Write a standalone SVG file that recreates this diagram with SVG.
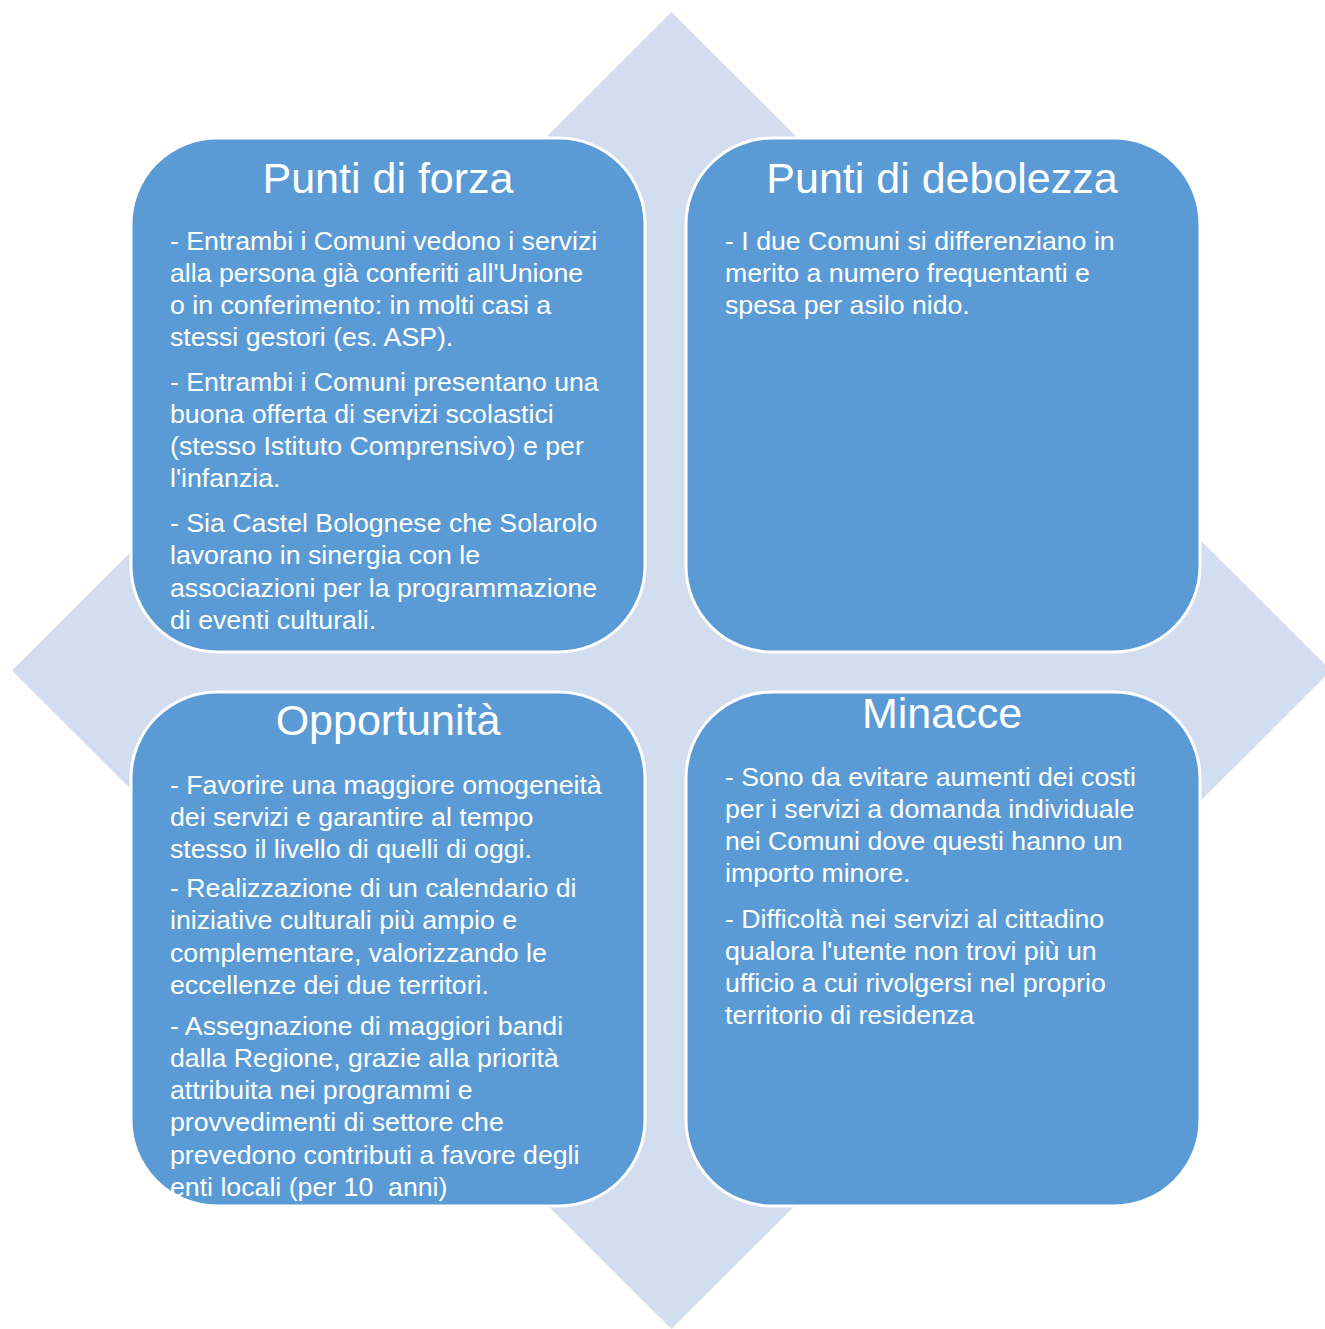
<svg xmlns="http://www.w3.org/2000/svg" width="1325" height="1329" viewBox="0 0 1325 1329">
<style>
.box{fill:#5B9BD5;stroke:#FFFFFF;stroke-width:3}
.title{font-family:"Liberation Sans",Arial,sans-serif;font-size:43px;fill:#FFFFFF;text-anchor:middle}
.body{font-family:"Liberation Sans",Arial,sans-serif;font-size:26.7px;fill:#FFFFFF}
</style>
<rect width="1325" height="1329" fill="#FFFFFF"/>
<polygon id="diamond" points="671.5,12 1331,670.5 671.5,1329 12,670.5" fill="#D2DEEF"/>
<g id="connectors"></g>
<g id="forza">
<rect class="box" x="131" y="138" width="514" height="514" rx="86" ry="86"/>
<text class="title" x="388" y="193">Punti di forza</text>
<text class="body">
<tspan x="170" y="250">- Entrambi i Comuni vedono i servizi</tspan>
<tspan x="170" y="282">alla persona già conferiti all'Unione</tspan>
<tspan x="170" y="314">o in conferimento: in molti casi a</tspan>
<tspan x="170" y="346">stessi gestori (es. ASP).</tspan>
<tspan x="170" y="391">- Entrambi i Comuni presentano una</tspan>
<tspan x="170" y="423">buona offerta di servizi scolastici</tspan>
<tspan x="170" y="455">(stesso Istituto Comprensivo) e per</tspan>
<tspan x="170" y="487">l'infanzia.</tspan>
<tspan x="170" y="532">- Sia Castel Bolognese che Solarolo</tspan>
<tspan x="170" y="564">lavorano in sinergia con le</tspan>
<tspan x="170" y="597">associazioni per la programmazione</tspan>
<tspan x="170" y="629">di eventi culturali.</tspan>
</text>
</g>
<g id="debolezza">
<rect class="box" x="686" y="138" width="514" height="514" rx="86" ry="86"/>
<text class="title" x="942" y="193">Punti di debolezza</text>
<text class="body">
<tspan x="725" y="250">- I due Comuni si differenziano in</tspan>
<tspan x="725" y="282">merito a numero frequentanti e</tspan>
<tspan x="725" y="314">spesa per asilo nido.</tspan>
</text>
</g>
<g id="opportunita">
<rect class="box" x="131" y="692" width="514" height="514" rx="86" ry="86"/>
<text class="title" x="388" y="735">Opportunità</text>
<text class="body">
<tspan x="170" y="794">- Favorire una maggiore omogeneità</tspan>
<tspan x="170" y="826">dei servizi e garantire al tempo</tspan>
<tspan x="170" y="858">stesso il livello di quelli di oggi.</tspan>
<tspan x="170" y="897">- Realizzazione di un calendario di</tspan>
<tspan x="170" y="929">iniziative culturali più ampio e</tspan>
<tspan x="170" y="962">complementare, valorizzando le</tspan>
<tspan x="170" y="994">eccellenze dei due territori.</tspan>
<tspan x="170" y="1035">- Assegnazione di maggiori bandi</tspan>
<tspan x="170" y="1067">dalla Regione, grazie alla priorità</tspan>
<tspan x="170" y="1099">attribuita nei programmi e</tspan>
<tspan x="170" y="1131">provvedimenti di settore che</tspan>
<tspan x="170" y="1164">prevedono contributi a favore degli</tspan>
<tspan x="170" y="1196" xml:space="preserve">enti locali (per 10  anni)</tspan>
</text>
</g>
<g id="minacce">
<rect class="box" x="686" y="692" width="514" height="514" rx="86" ry="86"/>
<text class="title" x="942" y="728">Minacce</text>
<text class="body">
<tspan x="725" y="786">- Sono da evitare aumenti dei costi</tspan>
<tspan x="725" y="818">per i servizi a domanda individuale</tspan>
<tspan x="725" y="850">nei Comuni dove questi hanno un</tspan>
<tspan x="725" y="882">importo minore.</tspan>
<tspan x="725" y="928">- Difficoltà nei servizi al cittadino</tspan>
<tspan x="725" y="960">qualora l'utente non trovi più un</tspan>
<tspan x="725" y="992">ufficio a cui rivolgersi nel proprio</tspan>
<tspan x="725" y="1024">territorio di residenza</tspan>
</text>
</g>
</svg>
